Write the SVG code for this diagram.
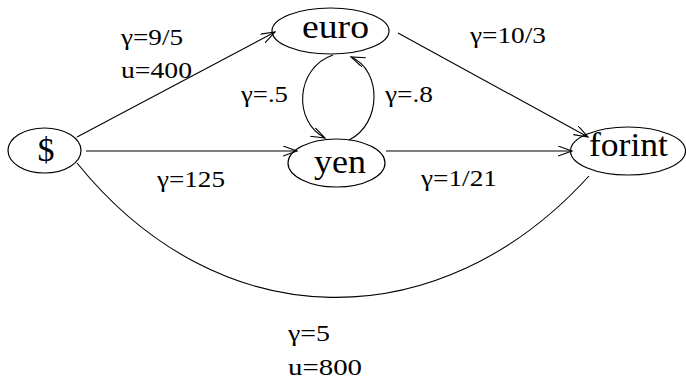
<svg xmlns="http://www.w3.org/2000/svg" width="686" height="381" viewBox="0 0 686 381">
<style>
.node ellipse{fill:none;stroke:#000;stroke-width:1.2}
.node text{font-size:34px;text-anchor:middle;fill:#000}
.edge{fill:none;stroke:#000;stroke-width:1.1}
.arr{marker-end:url(#ah)}
</style>
<defs>
<marker id="ah" markerUnits="userSpaceOnUse" markerWidth="16" markerHeight="12" refX="14" refY="5" orient="auto">
<path d="M0,0 L14,5 L0,10" fill="none" stroke="#000" stroke-width="1.1"/>
</marker>
</defs>
<rect width="686" height="381" fill="#fff"/>
<g id="connectors">
<path class="edge arr" d="M77,137 L275,32"/>
<path class="edge arr" d="M86,151 L297,151"/>
<path class="edge arr" d="M398,33 L588,137"/>
<path class="edge arr" d="M386,151 L572,151"/>
<path class="edge arr" d="M333,55 C295,68 293,122 325,138"/>
<path class="edge arr" d="M349,140 C382,124 382,70 351,57"/>
<path class="edge" d="M77,163 C220,340 440,340 589,176"/>
</g>
<g font-family="Liberation Serif, serif">
<g id="edge-labels" font-size="24" fill="#000">
<text x="121" y="45" textLength="62" lengthAdjust="spacingAndGlyphs">γ=9/5</text>
<text x="121" y="78" textLength="71" lengthAdjust="spacingAndGlyphs">u=400</text>
<text x="241" y="102" textLength="47" lengthAdjust="spacingAndGlyphs">γ=.5</text>
<text x="385" y="102" textLength="48" lengthAdjust="spacingAndGlyphs">γ=.8</text>
<text x="157" y="187" textLength="68" lengthAdjust="spacingAndGlyphs">γ=125</text>
<text x="470" y="43" textLength="76" lengthAdjust="spacingAndGlyphs">γ=10/3</text>
<text x="421" y="186" textLength="76" lengthAdjust="spacingAndGlyphs">γ=1/21</text>
<text x="288" y="341" textLength="42" lengthAdjust="spacingAndGlyphs">γ=5</text>
<text x="288" y="375" textLength="74" lengthAdjust="spacingAndGlyphs">u=800</text>
</g>
<g id="node-dollar" class="node">
<ellipse cx="44.5" cy="150.5" rx="36.5" ry="22.5"/>
<text x="46" y="161">$</text>
</g>
<g id="node-euro" class="node">
<ellipse cx="330.5" cy="31" rx="58.5" ry="23"/>
<text x="335.5" y="38" textLength="67" lengthAdjust="spacingAndGlyphs">euro</text>
</g>
<g id="node-yen" class="node">
<ellipse cx="336.5" cy="163" rx="48.5" ry="24"/>
<text x="340" y="173" textLength="52" lengthAdjust="spacingAndGlyphs">yen</text>
</g>
<g id="node-forint" class="node">
<ellipse cx="628" cy="151" rx="57.5" ry="24"/>
<text x="628.5" y="156" textLength="79" lengthAdjust="spacingAndGlyphs">forint</text>
</g>
</g>
</svg>
